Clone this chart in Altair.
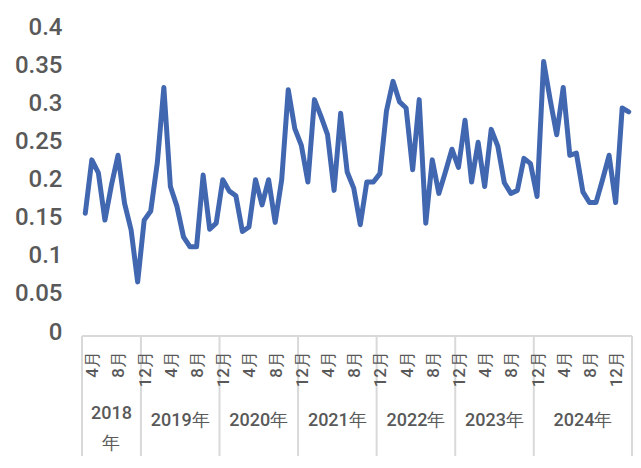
import altair as alt
import pandas as pd

# ---- data ----
group_labels = ["2018\n年", "2019年", "2020年", "2021年", "2022年", "2023年", "2024年"]
group_sizes = [9, 12, 12, 12, 12, 12, 15]

month_labels = ["4月", "8月", "12月", "4月", "8月", "12月", "4月", "8月", "12月",
                "4月", "8月", "12月", "4月", "8月", "12月", "4月", "8月", "12月",
                "4月", "8月", "12月"]

values_2018 = [0.161, 0.231, 0.214, 0.152, 0.198, 0.237, 0.174, 0.139, 0.071]
values_2019 = [0.152, 0.164, 0.227, 0.326, 0.196, 0.170, 0.130, 0.117, 0.117, 0.211, 0.140, 0.148]
values_2020 = [0.205, 0.190, 0.184, 0.137, 0.143, 0.205, 0.172, 0.205, 0.149, 0.205, 0.323, 0.272]
values_2021 = [0.250, 0.202, 0.310, 0.288, 0.264, 0.191, 0.292, 0.215, 0.194, 0.146, 0.202, 0.202]
values_2022 = [0.213, 0.295, 0.334, 0.307, 0.299, 0.218, 0.310, 0.148, 0.231, 0.187, 0.215, 0.245]
values_2023 = [0.221, 0.283, 0.202, 0.254, 0.196, 0.271, 0.249, 0.201, 0.187, 0.191, 0.233, 0.226]
values_2024 = [0.183, 0.360, 0.310, 0.264, 0.326, 0.237, 0.240, 0.189, 0.175, 0.175, 0.205,
               0.237, 0.175, 0.299, 0.294]

y_ticks = [0, 0.05, 0.1, 0.15, 0.2, 0.25, 0.3, 0.35, 0.4]

# ---- tables ----
values = (values_2018 + values_2019 + values_2020 + values_2021 +
          values_2022 + values_2023 + values_2024)
n = len(values)
df = pd.DataFrame({"k": list(range(1, n + 1)), "v": values})
tick_df = pd.DataFrame({"k": list(range(1, n + 1, 4))[:len(month_labels)], "label": month_labels})

bounds = [0.5]
for s in group_sizes:
    bounds.append(bounds[-1] + s)
mids = [(bounds[i] + bounds[i + 1]) / 2 for i in range(len(group_sizes))]
single_df = pd.DataFrame({"mid": [m for m, l in zip(mids, group_labels) if "\n" not in l],
                          "label": [l for l in group_labels if "\n" not in l]})
multi_df = pd.DataFrame({"mid": [m for m, l in zip(mids, group_labels) if "\n" in l],
                         "label": [l for l in group_labels if "\n" in l]})
sep_df = pd.DataFrame({"b": bounds})

W, H = 550, 305
PB = 120
GRAY = "#595959"
LINEGRAY = "#D9D9D9"
FONT = "Roboto"

xs = alt.Scale(domain=[0.5, n + 0.5], nice=False, zero=False)
ys = alt.Scale(domain=[0, 0.4], nice=False, zero=False)

line = alt.Chart(df).mark_line(
    color="#4267B1", strokeWidth=5, strokeJoin="round", strokeCap="round"
).encode(
    x=alt.X("k:Q", scale=xs, axis=None),
    y=alt.Y("v:Q", scale=ys, title=None,
            axis=alt.Axis(values=y_ticks, format=".2~f", grid=False, ticks=False,
                          domain=False, labelFont=FONT, labelFontSize=24,
                          labelFontWeight=500,
                          labelColor=GRAY, labelPadding=20, labelOffset=-4)),
)

zero_rule = alt.Chart(sep_df).mark_rule(color=LINEGRAY, strokeWidth=2).encode(
    x=alt.X("min(b):Q", scale=xs, axis=None),
    x2=alt.X2("max(b):Q"),
    y=alt.value(H),
)

seps = alt.Chart(sep_df).mark_rule(color=LINEGRAY, strokeWidth=2).encode(
    x=alt.X("b:Q", scale=xs, axis=None),
    y=alt.value(H), y2=alt.value(H + PB),
)

months = alt.Chart(tick_df).mark_text(
    angle=270, align="right", baseline="top", font=FONT, fontSize=17,
    fontWeight=500, color=GRAY
).encode(
    x=alt.X("k:Q", scale=xs, axis=None),
    y=alt.value(320),
    text="label:N",
)

years_single = alt.Chart(single_df).mark_text(
    align="center", baseline="middle", font=FONT, fontSize=18, fontWeight=500, color=GRAY
).encode(
    x=alt.X("mid:Q", scale=xs, axis=None),
    y=alt.value(390),
    text="label:N",
)

years_multi = alt.Chart(multi_df).transform_calculate(
    lines="split(datum.label, '\\n')"
).mark_text(
    align="center", baseline="middle", font=FONT, fontSize=18, fontWeight=500,
    color=GRAY, lineHeight=30
).encode(
    x=alt.X("mid:Q", scale=xs, axis=None),
    y=alt.value(383),
    text="lines:N",
)

chart = alt.layer(seps, zero_rule, months, years_single, years_multi, line).properties(
    width=W, height=H,
    padding={"left": 74, "top": 23, "right": 1, "bottom": PB},
    autosize=alt.AutoSizeParams(type="none"),
    background="white",
).configure_view(strokeWidth=0)

chart.save("out.html", embed_options={"renderer": "svg", "actions": False})
